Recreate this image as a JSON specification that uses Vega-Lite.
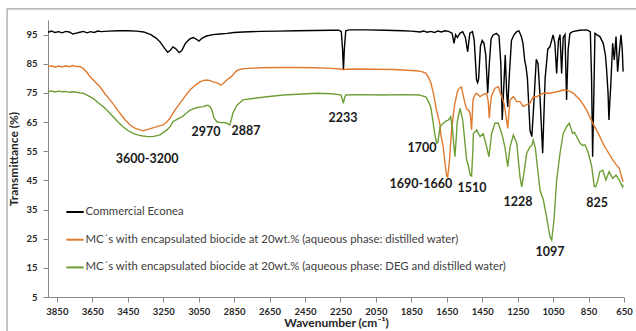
{
  "$schema": "https://vega.github.io/schema/vega-lite/v6.json",
  "width": 576,
  "height": 277,
  "autosize": {"type": "none"},
  "padding": {"left": 48, "top": 20, "right": 12, "bottom": 34},
  "background": "white",
  "config": {
    "view": {"stroke": null},
    "font": "Lato",
    "axis": {
      "grid": false,
      "domainColor": "#868686",
      "tickColor": "#868686",
      "tickSize": 5,
      "labelFont": "Lato",
      "labelFontWeight": "bold",
      "labelFontSize": 9.5,
      "labelColor": "#262626",
      "labelOverlap": false,
      "titleFont": "Lato",
      "titleFontWeight": "bold",
      "titleFontSize": 12,
      "titleColor": "#262626"
    },
    "legend": {
      "orient": "none",
      "legendX": 17,
      "legendY": 182,
      "symbolType": "stroke",
      "symbolSize": 300,
      "symbolStrokeWidth": 2,
      "labelFont": "Lato",
      "labelFontSize": 11.4,
      "labelColor": "#404040",
      "labelLimit": 600,
      "labelOffset": 0.5,
      "rowPadding": 11.7
    }
  },
  "datasets": {
    "spectra": [
      {"s":"A","w":3900,"t":95.8},{"s":"A","w":3880,"t":96.2},{"s":"A","w":3860,"t":95.7},{"s":"A","w":3840,"t":96.0},{"s":"A","w":3820,"t":95.6},{"s":"A","w":3800,"t":96.1},{"s":"A","w":3780,"t":95.9},{"s":"A","w":3760,"t":95.2},{"s":"A","w":3740,"t":95.5},{"s":"A","w":3720,"t":95.8},{"s":"A","w":3700,"t":96.1},{"s":"A","w":3680,"t":95.6},{"s":"A","w":3660,"t":96.0},{"s":"A","w":3640,"t":95.7},{"s":"A","w":3620,"t":96.2},{"s":"A","w":3600,"t":96.0},{"s":"A","w":3560,"t":96.2},{"s":"A","w":3500,"t":96.3},{"s":"A","w":3450,"t":96.3},{"s":"A","w":3400,"t":96.2},{"s":"A","w":3360,"t":95.9},{"s":"A","w":3320,"t":95.0},{"s":"A","w":3290,"t":93.8},{"s":"A","w":3268,"t":92.5},{"s":"A","w":3245,"t":90.5},{"s":"A","w":3225,"t":88.9},{"s":"A","w":3210,"t":89.6},{"s":"A","w":3195,"t":90.8},{"s":"A","w":3180,"t":90.2},{"s":"A","w":3160,"t":88.8},{"s":"A","w":3145,"t":89.5},{"s":"A","w":3125,"t":92.0},{"s":"A","w":3100,"t":93.5},{"s":"A","w":3080,"t":94.0},{"s":"A","w":3060,"t":93.3},{"s":"A","w":3048,"t":92.8},{"s":"A","w":3030,"t":93.8},{"s":"A","w":3005,"t":94.5},{"s":"A","w":2970,"t":95.0},{"s":"A","w":2930,"t":95.2},{"s":"A","w":2890,"t":95.4},{"s":"A","w":2850,"t":95.7},{"s":"A","w":2800,"t":95.9},{"s":"A","w":2700,"t":96.1},{"s":"A","w":2600,"t":96.2},{"s":"A","w":2500,"t":96.3},{"s":"A","w":2400,"t":96.4},{"s":"A","w":2300,"t":96.5},{"s":"A","w":2260,"t":96.5},{"s":"A","w":2245,"t":96.0},{"s":"A","w":2238,"t":90.0},{"s":"A","w":2233,"t":82.9},{"s":"A","w":2228,"t":90.0},{"s":"A","w":2220,"t":96.3},{"s":"A","w":2200,"t":96.6},{"s":"A","w":2100,"t":96.6},{"s":"A","w":2000,"t":96.5},{"s":"A","w":1900,"t":96.3},{"s":"A","w":1850,"t":96.2},{"s":"A","w":1800,"t":95.9},{"s":"A","w":1780,"t":96.2},{"s":"A","w":1760,"t":95.8},{"s":"A","w":1740,"t":96.1},{"s":"A","w":1720,"t":95.7},{"s":"A","w":1700,"t":96.2},{"s":"A","w":1680,"t":95.9},{"s":"A","w":1660,"t":96.3},{"s":"A","w":1640,"t":96.1},{"s":"A","w":1620,"t":95.5},{"s":"A","w":1609,"t":92.0},{"s":"A","w":1600,"t":95.0},{"s":"A","w":1590,"t":94.0},{"s":"A","w":1575,"t":95.5},{"s":"A","w":1560,"t":96.0},{"s":"A","w":1545,"t":94.0},{"s":"A","w":1532,"t":89.1},{"s":"A","w":1520,"t":95.5},{"s":"A","w":1505,"t":96.0},{"s":"A","w":1495,"t":93.0},{"s":"A","w":1482,"t":79.5},{"s":"A","w":1476,"t":78.5},{"s":"A","w":1470,"t":80.0},{"s":"A","w":1460,"t":91.0},{"s":"A","w":1450,"t":93.0},{"s":"A","w":1440,"t":92.0},{"s":"A","w":1430,"t":88.0},{"s":"A","w":1419,"t":74.9},{"s":"A","w":1410,"t":85.0},{"s":"A","w":1400,"t":93.5},{"s":"A","w":1390,"t":94.8},{"s":"A","w":1370,"t":95.4},{"s":"A","w":1355,"t":94.5},{"s":"A","w":1345,"t":85.0},{"s":"A","w":1337,"t":65.7},{"s":"A","w":1330,"t":75.0},{"s":"A","w":1320,"t":88.0},{"s":"A","w":1312,"t":75.0},{"s":"A","w":1306,"t":70.2},{"s":"A","w":1298,"t":80.0},{"s":"A","w":1285,"t":93.0},{"s":"A","w":1270,"t":95.0},{"s":"A","w":1255,"t":96.0},{"s":"A","w":1243,"t":96.3},{"s":"A","w":1230,"t":94.5},{"s":"A","w":1220,"t":92.0},{"s":"A","w":1210,"t":86.0},{"s":"A","w":1203,"t":84.0},{"s":"A","w":1195,"t":80.0},{"s":"A","w":1180,"t":62.0},{"s":"A","w":1170,"t":60.0},{"s":"A","w":1160,"t":70.0},{"s":"A","w":1145,"t":86.5},{"s":"A","w":1135,"t":85.0},{"s":"A","w":1125,"t":75.0},{"s":"A","w":1109,"t":54.3},{"s":"A","w":1095,"t":80.0},{"s":"A","w":1080,"t":90.0},{"s":"A","w":1068,"t":90.8},{"s":"A","w":1050,"t":94.9},{"s":"A","w":1040,"t":92.0},{"s":"A","w":1030,"t":81.7},{"s":"A","w":1020,"t":93.0},{"s":"A","w":1011,"t":95.0},{"s":"A","w":1002,"t":81.7},{"s":"A","w":993,"t":94.0},{"s":"A","w":983,"t":95.0},{"s":"A","w":974,"t":72.6},{"s":"A","w":965,"t":90.0},{"s":"A","w":955,"t":95.4},{"s":"A","w":940,"t":96.0},{"s":"A","w":900,"t":96.5},{"s":"A","w":860,"t":96.6},{"s":"A","w":840,"t":96.0},{"s":"A","w":833,"t":80.0},{"s":"A","w":827,"t":53.1},{"s":"A","w":820,"t":75.0},{"s":"A","w":814,"t":95.4},{"s":"A","w":800,"t":94.8},{"s":"A","w":786,"t":94.3},{"s":"A","w":767,"t":92.0},{"s":"A","w":755,"t":88.0},{"s":"A","w":748,"t":82.9},{"s":"A","w":740,"t":75.0},{"s":"A","w":735,"t":65.7},{"s":"A","w":730,"t":72.0},{"s":"A","w":725,"t":77.1},{"s":"A","w":714,"t":92.0},{"s":"A","w":705,"t":86.3},{"s":"A","w":695,"t":94.3},{"s":"A","w":686,"t":82.3},{"s":"A","w":677,"t":88.6},{"s":"A","w":667,"t":94.9},{"s":"A","w":660,"t":90.0},{"s":"A","w":655,"t":82.3},

      {"s":"B","w":3900,"t":84.0},{"s":"B","w":3880,"t":84.3},{"s":"B","w":3860,"t":83.8},{"s":"B","w":3840,"t":84.2},{"s":"B","w":3820,"t":83.9},{"s":"B","w":3800,"t":84.3},{"s":"B","w":3780,"t":84.0},{"s":"B","w":3760,"t":84.4},{"s":"B","w":3740,"t":84.0},{"s":"B","w":3720,"t":84.1},{"s":"B","w":3702,"t":83.4},{"s":"B","w":3680,"t":82.0},{"s":"B","w":3663,"t":80.6},{"s":"B","w":3640,"t":79.2},{"s":"B","w":3607,"t":77.1},{"s":"B","w":3580,"t":74.8},{"s":"B","w":3550,"t":72.6},{"s":"B","w":3520,"t":70.2},{"s":"B","w":3494,"t":68.0},{"s":"B","w":3465,"t":65.8},{"s":"B","w":3437,"t":64.0},{"s":"B","w":3410,"t":62.9},{"s":"B","w":3381,"t":62.3},{"s":"B","w":3364,"t":62.0},{"s":"B","w":3340,"t":62.4},{"s":"B","w":3308,"t":63.0},{"s":"B","w":3280,"t":63.5},{"s":"B","w":3251,"t":64.0},{"s":"B","w":3230,"t":65.0},{"s":"B","w":3212,"t":66.3},{"s":"B","w":3185,"t":69.0},{"s":"B","w":3155,"t":71.5},{"s":"B","w":3125,"t":74.0},{"s":"B","w":3099,"t":76.0},{"s":"B","w":3070,"t":77.6},{"s":"B","w":3042,"t":78.8},{"s":"B","w":3020,"t":79.3},{"s":"B","w":3003,"t":79.4},{"s":"B","w":2985,"t":79.2},{"s":"B","w":2969,"t":78.8},{"s":"B","w":2950,"t":78.5},{"s":"B","w":2941,"t":78.3},{"s":"B","w":2924,"t":77.7},{"s":"B","w":2910,"t":78.3},{"s":"B","w":2891,"t":79.4},{"s":"B","w":2870,"t":80.4},{"s":"B","w":2857,"t":81.1},{"s":"B","w":2840,"t":82.3},{"s":"B","w":2828,"t":82.9},{"s":"B","w":2800,"t":83.3},{"s":"B","w":2778,"t":83.4},{"s":"B","w":2700,"t":83.6},{"s":"B","w":2600,"t":83.7},{"s":"B","w":2500,"t":83.7},{"s":"B","w":2400,"t":83.6},{"s":"B","w":2300,"t":83.4},{"s":"B","w":2250,"t":83.2},{"s":"B","w":2233,"t":82.9},{"s":"B","w":2220,"t":83.1},{"s":"B","w":2150,"t":83.2},{"s":"B","w":2050,"t":83.1},{"s":"B","w":1950,"t":83.0},{"s":"B","w":1850,"t":82.7},{"s":"B","w":1824,"t":82.6},{"s":"B","w":1790,"t":82.3},{"s":"B","w":1767,"t":81.7},{"s":"B","w":1750,"t":80.0},{"s":"B","w":1739,"t":78.3},{"s":"B","w":1726,"t":75.0},{"s":"B","w":1711,"t":70.0},{"s":"B","w":1700,"t":67.0},{"s":"B","w":1688,"t":64.0},{"s":"B","w":1683,"t":60.5},{"s":"B","w":1670,"t":56.5},{"s":"B","w":1660,"t":51.0},{"s":"B","w":1651,"t":46.5},{"s":"B","w":1645,"t":46.2},{"s":"B","w":1636,"t":50.8},{"s":"B","w":1623,"t":62.3},{"s":"B","w":1612,"t":68.0},{"s":"B","w":1604,"t":71.4},{"s":"B","w":1590,"t":75.5},{"s":"B","w":1579,"t":76.6},{"s":"B","w":1567,"t":77.0},{"s":"B","w":1555,"t":73.5},{"s":"B","w":1547,"t":71.5},{"s":"B","w":1538,"t":69.5},{"s":"B","w":1528,"t":69.1},{"s":"B","w":1518,"t":68.0},{"s":"B","w":1510,"t":62.3},{"s":"B","w":1502,"t":72.6},{"s":"B","w":1490,"t":74.5},{"s":"B","w":1481,"t":74.9},{"s":"B","w":1462,"t":73.7},{"s":"B","w":1444,"t":74.5},{"s":"B","w":1425,"t":74.8},{"s":"B","w":1416,"t":72.0},{"s":"B","w":1410,"t":66.3},{"s":"B","w":1404,"t":71.0},{"s":"B","w":1397,"t":74.0},{"s":"B","w":1378,"t":76.6},{"s":"B","w":1359,"t":77.1},{"s":"B","w":1340,"t":73.7},{"s":"B","w":1325,"t":71.0},{"s":"B","w":1306,"t":62.8},{"s":"B","w":1293,"t":72.6},{"s":"B","w":1274,"t":73.7},{"s":"B","w":1255,"t":72.0},{"s":"B","w":1237,"t":72.0},{"s":"B","w":1218,"t":70.3},{"s":"B","w":1199,"t":71.0},{"s":"B","w":1181,"t":71.4},{"s":"B","w":1162,"t":73.7},{"s":"B","w":1143,"t":73.7},{"s":"B","w":1105,"t":74.9},{"s":"B","w":1068,"t":74.9},{"s":"B","w":1030,"t":75.4},{"s":"B","w":993,"t":76.0},{"s":"B","w":964,"t":75.8},{"s":"B","w":936,"t":74.9},{"s":"B","w":898,"t":72.6},{"s":"B","w":880,"t":71.0},{"s":"B","w":861,"t":69.1},{"s":"B","w":845,"t":67.0},{"s":"B","w":823,"t":64.2},{"s":"B","w":795,"t":61.1},{"s":"B","w":786,"t":60.0},{"s":"B","w":767,"t":57.5},{"s":"B","w":748,"t":55.5},{"s":"B","w":733,"t":54.0},{"s":"B","w":714,"t":52.0},{"s":"B","w":695,"t":50.5},{"s":"B","w":677,"t":49.2},{"s":"B","w":665,"t":46.5},{"s":"B","w":655,"t":44.5},

      {"s":"C","w":3900,"t":75.4},{"s":"C","w":3880,"t":75.7},{"s":"C","w":3860,"t":75.3},{"s":"C","w":3840,"t":75.6},{"s":"C","w":3820,"t":75.4},{"s":"C","w":3800,"t":75.5},{"s":"C","w":3780,"t":75.2},{"s":"C","w":3760,"t":75.4},{"s":"C","w":3740,"t":75.2},{"s":"C","w":3720,"t":75.0},{"s":"C","w":3702,"t":74.9},{"s":"C","w":3680,"t":74.2},{"s":"C","w":3646,"t":73.1},{"s":"C","w":3620,"t":71.8},{"s":"C","w":3589,"t":70.3},{"s":"C","w":3560,"t":68.6},{"s":"C","w":3533,"t":66.8},{"s":"C","w":3505,"t":65.0},{"s":"C","w":3477,"t":63.4},{"s":"C","w":3450,"t":62.1},{"s":"C","w":3420,"t":61.1},{"s":"C","w":3390,"t":60.5},{"s":"C","w":3364,"t":60.2},{"s":"C","w":3336,"t":60.0},{"s":"C","w":3308,"t":60.0},{"s":"C","w":3268,"t":60.6},{"s":"C","w":3229,"t":62.3},{"s":"C","w":3210,"t":63.5},{"s":"C","w":3195,"t":65.1},{"s":"C","w":3170,"t":66.0},{"s":"C","w":3144,"t":66.8},{"s":"C","w":3120,"t":68.0},{"s":"C","w":3099,"t":69.1},{"s":"C","w":3059,"t":70.0},{"s":"C","w":3025,"t":70.3},{"s":"C","w":3010,"t":70.6},{"s":"C","w":2997,"t":70.8},{"s":"C","w":2985,"t":70.2},{"s":"C","w":2975,"t":69.1},{"s":"C","w":2963,"t":66.3},{"s":"C","w":2945,"t":65.0},{"s":"C","w":2930,"t":64.8},{"s":"C","w":2910,"t":64.9},{"s":"C","w":2891,"t":64.6},{"s":"C","w":2880,"t":64.2},{"s":"C","w":2874,"t":64.0},{"s":"C","w":2865,"t":66.0},{"s":"C","w":2857,"t":68.0},{"s":"C","w":2834,"t":70.8},{"s":"C","w":2800,"t":72.6},{"s":"C","w":2743,"t":73.1},{"s":"C","w":2665,"t":73.7},{"s":"C","w":2574,"t":74.3},{"s":"C","w":2383,"t":74.9},{"s":"C","w":2300,"t":74.7},{"s":"C","w":2260,"t":74.4},{"s":"C","w":2247,"t":74.3},{"s":"C","w":2240,"t":73.0},{"s":"C","w":2234,"t":71.4},{"s":"C","w":2228,"t":73.0},{"s":"C","w":2220,"t":74.3},{"s":"C","w":2150,"t":74.4},{"s":"C","w":2012,"t":74.3},{"s":"C","w":1900,"t":74.4},{"s":"C","w":1805,"t":74.3},{"s":"C","w":1767,"t":73.6},{"s":"C","w":1749,"t":71.4},{"s":"C","w":1740,"t":70.0},{"s":"C","w":1729,"t":65.7},{"s":"C","w":1718,"t":61.0},{"s":"C","w":1707,"t":57.7},{"s":"C","w":1700,"t":58.0},{"s":"C","w":1688,"t":63.4},{"s":"C","w":1670,"t":64.6},{"s":"C","w":1655,"t":65.3},{"s":"C","w":1641,"t":65.7},{"s":"C","w":1628,"t":66.8},{"s":"C","w":1617,"t":62.3},{"s":"C","w":1610,"t":57.0},{"s":"C","w":1604,"t":53.1},{"s":"C","w":1596,"t":60.0},{"s":"C","w":1591,"t":65.0},{"s":"C","w":1575,"t":69.7},{"s":"C","w":1560,"t":65.7},{"s":"C","w":1547,"t":57.7},{"s":"C","w":1538,"t":52.0},{"s":"C","w":1528,"t":50.0},{"s":"C","w":1518,"t":46.8},{"s":"C","w":1510,"t":46.5},{"s":"C","w":1503,"t":55.0},{"s":"C","w":1500,"t":61.1},{"s":"C","w":1481,"t":62.3},{"s":"C","w":1462,"t":60.0},{"s":"C","w":1444,"t":61.0},{"s":"C","w":1425,"t":56.5},{"s":"C","w":1412,"t":53.1},{"s":"C","w":1397,"t":61.0},{"s":"C","w":1378,"t":64.6},{"s":"C","w":1359,"t":64.6},{"s":"C","w":1340,"t":61.1},{"s":"C","w":1322,"t":56.5},{"s":"C","w":1306,"t":49.7},{"s":"C","w":1293,"t":56.5},{"s":"C","w":1274,"t":60.6},{"s":"C","w":1255,"t":57.7},{"s":"C","w":1237,"t":46.3},{"s":"C","w":1227,"t":42.8},{"s":"C","w":1212,"t":48.5},{"s":"C","w":1199,"t":54.3},{"s":"C","w":1181,"t":56.5},{"s":"C","w":1170,"t":57.0},{"s":"C","w":1162,"t":58.8},{"s":"C","w":1150,"t":56.0},{"s":"C","w":1143,"t":52.0},{"s":"C","w":1124,"t":41.7},{"s":"C","w":1105,"t":38.3},{"s":"C","w":1087,"t":32.5},{"s":"C","w":1068,"t":25.7},{"s":"C","w":1058,"t":24.5},{"s":"C","w":1045,"t":31.4},{"s":"C","w":1030,"t":45.1},{"s":"C","w":1011,"t":54.3},{"s":"C","w":993,"t":61.1},{"s":"C","w":974,"t":63.4},{"s":"C","w":959,"t":64.6},{"s":"C","w":950,"t":63.0},{"s":"C","w":940,"t":61.1},{"s":"C","w":930,"t":61.5},{"s":"C","w":917,"t":60.0},{"s":"C","w":898,"t":57.7},{"s":"C","w":883,"t":57.0},{"s":"C","w":870,"t":57.2},{"s":"C","w":851,"t":54.3},{"s":"C","w":832,"t":49.7},{"s":"C","w":818,"t":43.0},{"s":"C","w":810,"t":42.8},{"s":"C","w":800,"t":44.5},{"s":"C","w":786,"t":48.0},{"s":"C","w":770,"t":48.5},{"s":"C","w":752,"t":45.1},{"s":"C","w":734,"t":48.0},{"s":"C","w":714,"t":45.7},{"s":"C","w":695,"t":46.8},{"s":"C","w":677,"t":45.1},{"s":"C","w":658,"t":42.8},{"s":"C","w":655,"t":43.5}
    ],
    "peaks": [
      {"label":"3600-3200","w":3341,"t":52.3},
      {"label":"2970","w":3009,"t":61.6},
      {"label":"2887","w":2783,"t":61.9},
      {"label":"2233","w":2236,"t":66.4},
      {"label":"1700","w":1790,"t":56.1},
      {"label":"1690-1660","w":1796,"t":43.7},
      {"label":"1510","w":1508,"t":42.4},
      {"label":"1228","w":1248,"t":37.6},
      {"label":"1097","w":1068,"t":20.4},
      {"label":"825","w":802,"t":37.2}
    ]
  },
  "layer": [
    {
      "data": {"values": [{"frame": 1}]},
      "mark": {"type": "rect", "fillOpacity": 0, "stroke": "#8c8c8c", "strokeWidth": 1, "clip": false},
      "encoding": {
        "x": {"datum": 4131, "type": "quantitative", "scale": {"domain": [650, 3900], "reverse": true, "nice": false, "zero": false}, "title": "Wavenumber (cm⁻¹)"},
        "x2": {"datum": 380},
        "y": {"datum": 103.8, "type": "quantitative", "scale": {"domain": [5, 100], "nice": false, "zero": false}, "title": "Transmittance (%)"},
        "y2": {"datum": -30}
      }
    },
    {
      "data": {"name": "spectra"},
      "mark": {"type": "line", "strokeWidth": 1.4, "interpolate": "linear"},
      "encoding": {
        "x": {"field": "w", "type": "quantitative", "title": "Wavenumber (cm⁻¹)",
              "axis": {"values": [3850, 3650, 3450, 3250, 3050, 2850, 2650, 2450, 2250, 2050, 1850, 1650, 1450, 1250, 1050, 850, 650], "tickCount": 40, "format": "d", "labelPadding": 4, "titlePadding": 2, "labelFlush": false, "labelOverlap": false}},
        "y": {"field": "t", "type": "quantitative", "title": "Transmittance (%)",
              "axis": {"values": [5, 15, 25, 35, 45, 55, 65, 75, 85, 95], "tickCount": 40, "format": "d", "labelPadding": 6, "titlePadding": 5, "labelOverlap": false}},
        "color": {
          "field": "s", "type": "nominal",
          "scale": {"domain": ["A", "B", "C"], "range": ["#000000", "#E07B30", "#6E9E36"]},
          "legend": {"title": null, "labelExpr": "datum.label == 'A' ? 'Commercial Econea' : datum.label == 'B' ? 'MC´s with encapsulated biocide at 20wt.% (aqueous phase: distilled water)' : 'MC´s with encapsulated biocide at 20wt.% (aqueous phase: DEG and distilled water)'"}
        },
        "order": {"field": "w", "type": "quantitative", "sort": "descending"}
      }
    },
    {
      "data": {"name": "peaks"},
      "mark": {"type": "text", "font": "Lato", "fontWeight": "bold", "fontSize": 12.5, "color": "#1a1a1a", "align": "center", "baseline": "middle"},
      "encoding": {
        "x": {"field": "w", "type": "quantitative", "title": "Wavenumber (cm⁻¹)"},
        "y": {"field": "t", "type": "quantitative", "title": "Transmittance (%)"},
        "text": {"field": "label"}
      }
    }
  ]
}
